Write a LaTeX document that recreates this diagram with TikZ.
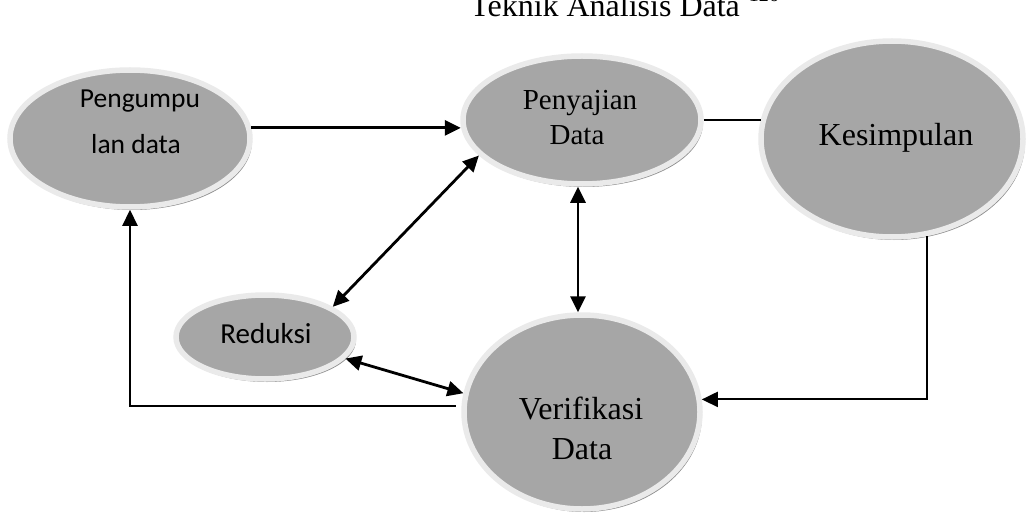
\documentclass[tikz,border=0pt]{standalone}
\usepackage{fontspec}
\setmainfont{Liberation Serif}
\newfontfamily\calibri{Carlito}
\usetikzlibrary{shapes.geometric,shadows,arrows.meta}
\definecolor{bubblefill}{HTML}{A6A6A6}
\definecolor{bubblerim}{HTML}{EAEAEA}
\definecolor{bubbleshade}{HTML}{8E8E8E}
\tikzset{
  bubble/.style={ellipse, draw=bubblerim, line width=5.5pt, fill=bubblefill,
    inner sep=0pt, outer sep=2.75pt,
    drop shadow={shadow xshift=2pt, shadow yshift=-3pt, fill=bubbleshade, opacity=1}},
  tip/.tip={Triangle[length=16pt,width=15pt]},
  arr/.style={line width=2.8pt, -tip},
  biarr/.style={line width=2.8pt, tip-tip},
  serifbig/.style={font=\fontsize{32}{32}\selectfont, anchor=base, inner sep=0pt},
  serifmid/.style={font=\fontsize{29}{29}\selectfont, anchor=base, inner sep=0pt},
  sanslabel/.style={font=\calibri\fontsize{27.5}{27.5}\selectfont, anchor=base, inner sep=0pt},
}
\begin{document}
\begin{tikzpicture}[x=1pt,y=-1pt]
\useasboundingbox (0,0) rectangle (1027,513);

% heading, cut at the top edge
\node[serifbig, anchor=base west] (title) at (470,17)
  {Teknik Analisis Data\hspace{9pt}\raisebox{15pt}{\fontsize{20}{20}\selectfont 126}};

% the five stages
\node[bubble, minimum width=240pt, minimum height=137pt] (peng) at (130,138.5) {};
\node[bubble, minimum width=238pt, minimum height=128pt] (peny) at (582,120) {};
\node[bubble, minimum width=262pt, minimum height=196pt] (kes) at (892,139) {};
\node[bubble, minimum width=178pt, minimum height=84pt] (red) at (265,337) {};
\node[bubble, minimum width=236pt, minimum height=194pt] (ver) at (582,412) {};

% their labels
\node[sanslabel] (peng-a) at (140,108) {Pengumpu};
\node[sanslabel] (peng-b) at (136,154) {lan data};
\node[serifmid] (peny-a) at (580,110) {Penyajian};
\node[serifmid] (peny-b) at (577,145) {Data};
\node[serifbig] (kes-a) at (896,146) {Kesimpulan};
\node[sanslabel, font=\calibri\fontsize{29}{29}\selectfont] (red-a) at (266,343) {Reduksi};
\node[serifbig] (ver-a) at (581,419) {Verifikasi};
\node[serifbig] (ver-b) at (582,459) {Data};

% connectors
\draw[arr] (peng.5.4) -- (peng.5.4 -| peny.183);
\draw[line width=2.6pt] (peny.east) -- (peny.east -| kes.171);
\draw[biarr] (red.24) -- (peny.199);
\draw[biarr] ([xshift=-4pt]peny.south) -- ([xshift=-4pt]ver.north);
\draw[biarr] (red.345) -- (ver.171);
\draw[line width=2.2pt, -tip] ([xshift=-6pt]ver.177.6) -| (peng.south);
\draw[line width=2pt, -tip] (kes.290) |- (ver.6);
\end{tikzpicture}
\end{document}
